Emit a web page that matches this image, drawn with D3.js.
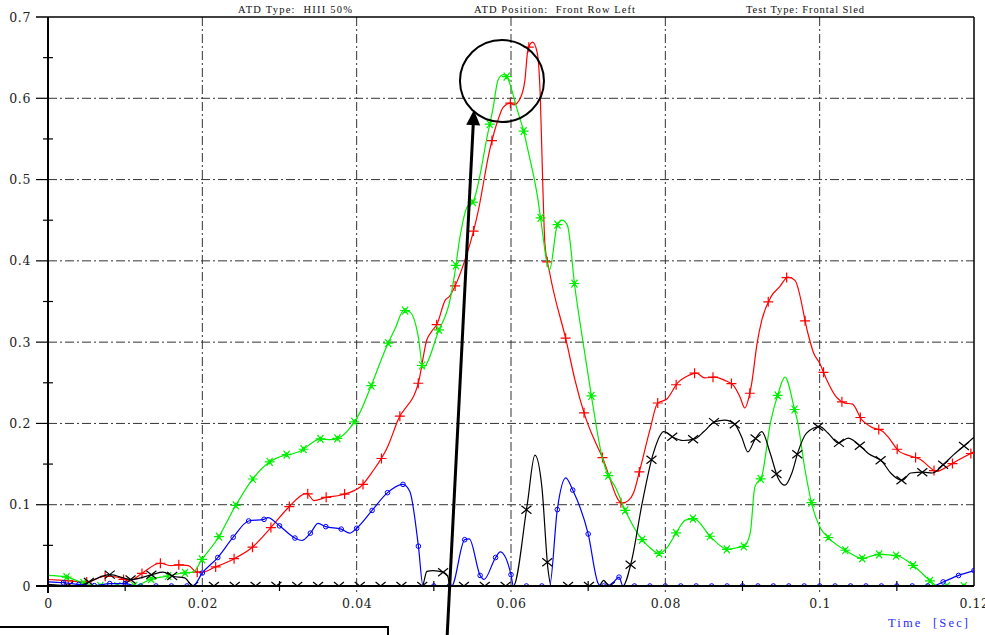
<!DOCTYPE html>
<html><head>
<meta charset="utf-8">
<title>ATD sled test</title>
<script src="https://d3js.org/d3.v7.min.js"></script>
<style>
  body { margin: 0; background: #fff; }
  svg { display: block; }
  .grid line { stroke: #333; stroke-width: 1; stroke-dasharray: 9,3,2,3; }
  .head { font-family: "Liberation Serif", "DejaVu Serif", serif; font-size: 10.5px; fill: #111; }
</style>
</head>
<body>
<svg id="chart" width="985" height="635"></svg>
<script>

// values: [time (s), value]
const redSeries = [[0,0.008],[0.002,0.007],[0.005,0.005],[0.0074,0.012],[0.009,0.011],[0.0105,0.006],[0.0121,0.015],
  [0.0145,0.028],[0.016,0.025],[0.0169,0.026],[0.0182,0.025],[0.0193,0.017],[0.020,0.017],[0.0216,0.023],[0.024,0.033],
  [0.0264,0.047],[0.0288,0.071],[0.0311,0.096],[0.0335,0.114],[0.0345,0.105],[0.036,0.109],[0.038,0.112],[0.0405,0.122],
  [0.042,0.14],[0.044,0.171],[0.0454,0.205],[0.048,0.25],[0.0491,0.303],[0.0497,0.313],[0.0504,0.322],[0.0515,0.352],
  [0.052,0.356],[0.0527,0.368],[0.054,0.4],[0.0551,0.435],[0.0557,0.459],[0.0573,0.539],[0.0583,0.573],[0.059,0.589],
  [0.0599,0.594],[0.0604,0.592],[0.0612,0.600],[0.0618,0.622],[0.0622,0.66],[0.0628,0.669],[0.0634,0.656],[0.0638,0.601],
  [0.0641,0.5],[0.0644,0.42],[0.065,0.386],[0.0672,0.300],[0.0683,0.253],[0.0696,0.209],[0.0719,0.157],[0.0744,0.102],
  [0.0752,0.105],[0.0759,0.115],[0.0767,0.143],[0.078,0.192],[0.079,0.225],[0.0802,0.23],[0.0816,0.25],[0.083,0.259],
  [0.084,0.262],[0.0851,0.256],[0.0864,0.257],[0.0877,0.253],[0.0889,0.246],[0.0897,0.232],[0.0903,0.219],[0.0909,0.235],
  [0.0912,0.25],[0.0919,0.299],[0.0925,0.327],[0.0937,0.356],[0.0948,0.368],[0.0959,0.380],[0.0968,0.376],[0.0985,0.31],
  [0.0992,0.287],[0.1,0.274],[0.1008,0.256],[0.1022,0.232],[0.1033,0.225],[0.1042,0.224],[0.1055,0.204],[0.1066,0.196],
  [0.1082,0.19],[0.1088,0.184],[0.1104,0.165],[0.1114,0.161],[0.113,0.156],[0.1152,0.141],[0.1162,0.145],[0.1178,0.154],
  [0.12,0.165]];

const greenSeries = [[0,0.013],[0.0024,0.011],[0.0045,0.004],[0.007,0.0],[0.0105,0.0],[0.0117,0.001],[0.0132,0.008],
  [0.0154,0.012],[0.0175,0.016],[0.0188,0.017],[0.0199,0.032],[0.0221,0.06],[0.0242,0.097],[0.0264,0.13],[0.0285,0.151],
  [0.0307,0.161],[0.0318,0.163],[0.0329,0.167],[0.0342,0.176],[0.0352,0.181],[0.0366,0.18],[0.038,0.184],[0.0394,0.198],
  [0.0404,0.213],[0.0417,0.242],[0.0439,0.295],[0.045,0.317],[0.0461,0.339],[0.0469,0.337],[0.048,0.306],[0.0486,0.268],
  [0.0491,0.274],[0.0505,0.311],[0.0521,0.352],[0.0527,0.384],[0.0534,0.43],[0.0543,0.466],[0.0551,0.473],[0.057,0.557],
  [0.0577,0.589],[0.0583,0.622],[0.059,0.629],[0.0595,0.626],[0.0601,0.61],[0.0608,0.586],[0.0616,0.561],[0.0622,0.536],
  [0.0635,0.475],[0.0638,0.455],[0.065,0.389],[0.066,0.444],[0.0666,0.45],[0.0673,0.444],[0.0683,0.366],[0.0693,0.302],
  [0.0705,0.229],[0.0718,0.159],[0.0726,0.136],[0.0735,0.122],[0.0748,0.093],[0.077,0.057],[0.078,0.047],[0.0792,0.04],
  [0.0802,0.047],[0.0815,0.067],[0.0826,0.081],[0.0837,0.083],[0.0859,0.06],[0.0881,0.045],[0.0892,0.047],[0.0902,0.049],
  [0.091,0.065],[0.0916,0.122],[0.0925,0.135],[0.0936,0.2],[0.0946,0.236],[0.0955,0.257],[0.0968,0.215],[0.0971,0.204],
  [0.0981,0.143],[0.099,0.1],[0.1,0.073],[0.1012,0.059],[0.1035,0.043],[0.1056,0.034],[0.1067,0.037],[0.1079,0.039],
  [0.1101,0.037],[0.1124,0.023],[0.1146,0.004],[0.1152,0],[0.12,0]];

const blueSeries = [[0,0.005],[0.002,0.004],[0.0039,0.002],[0.006,0.0005],[0.008,0.003],[0.01,0.003],[0.0115,0.0],
  [0.0188,0.0],[0.02,0.016],[0.022,0.035],[0.024,0.06],[0.026,0.08],[0.028,0.082],[0.0285,0.084],[0.03,0.074],[0.032,0.059],
  [0.0329,0.056],[0.034,0.065],[0.035,0.077],[0.036,0.073],[0.038,0.07],[0.0391,0.065],[0.04,0.071],[0.042,0.093],
  [0.0439,0.114],[0.046,0.125],[0.0469,0.116],[0.048,0.049],[0.0486,0.0],[0.0523,0.0],[0.054,0.057],[0.0546,0.058],
  [0.056,0.013],[0.0565,0.008],[0.058,0.035],[0.0586,0.042],[0.06,0.014],[0.0603,0.0],[0.065,0.0],[0.066,0.094],
  [0.0671,0.133],[0.068,0.118],[0.07,0.064],[0.0713,0.003],[0.0716,0.0],[0.0725,0.0],[0.0733,0.005],[0.074,0.011],
  [0.0745,0.0],[0.1147,0.0],[0.116,0.005],[0.118,0.013],[0.12,0.019]];

const blackSeries = [[0,0.002],[0.004,0.0],[0.0053,0.005],[0.008,0.014],[0.0108,0.008],[0.0135,0.014],[0.0149,0.017],
  [0.0162,0.012],[0.0177,0.01],[0.0188,0.0],[0.0485,0.0],[0.0491,0.018],[0.0499,0.019],[0.0512,0.017],[0.0518,0.012],
  [0.0521,0.0],[0.0603,0.0],[0.0621,0.1],[0.0631,0.161],[0.064,0.122],[0.0648,0.02],[0.0652,0.0],[0.0714,0.0],
  [0.072,0.007],[0.0727,0.0],[0.0745,0.0],[0.0756,0.03],[0.077,0.102],[0.0784,0.162],[0.0798,0.19],[0.081,0.183],
  [0.0823,0.179],[0.0838,0.181],[0.085,0.19],[0.0864,0.202],[0.0877,0.204],[0.089,0.199],[0.0899,0.183],[0.0907,0.165],
  [0.0916,0.18],[0.0925,0.19],[0.0936,0.163],[0.0946,0.133],[0.0955,0.124],[0.0964,0.139],[0.0972,0.165],[0.0983,0.188],
  [0.1,0.196],[0.1011,0.188],[0.1024,0.176],[0.1037,0.182],[0.1055,0.17],[0.1063,0.163],[0.1081,0.153],[0.1092,0.139],
  [0.1107,0.13],[0.1118,0.139],[0.1134,0.14],[0.1146,0.139],[0.1161,0.15],[0.1173,0.161],[0.1188,0.173],[0.12,0.183]];

const xTicks = [0, 0.02, 0.04, 0.06, 0.08, 0.1, 0.12];
const xMinorTicks = [0.01, 0.03, 0.05, 0.07, 0.09, 0.11];
const yTicks = [0, 0.1, 0.2, 0.3, 0.4, 0.5, 0.6, 0.7];
const yMinorTicks = [0.05, 0.15, 0.25, 0.35, 0.45, 0.55, 0.65];
const headerLabels = ["ATD Type:  HIII 50%", "ATD Position:  Front Row Left", "Test Type: Frontal Sled"];
const xAxisTitle = "Time  [Sec]";

// drawing
const svg = d3.select("#chart");
const x = d3.scaleLinear().domain([0, 0.12]).range([48, 974]);
const y = d3.scaleLinear().domain([0, 0.7]).range([586, 17]);

svg.append("clipPath").attr("id", "plotclip")
  .append("rect").attr("x", x(0)).attr("y", y(0.7) - 6).attr("width", x(0.12) - x(0)).attr("height", y(0) - y(0.7) + 6);

// dash-dot grid
const grid = svg.append("g").attr("class", "grid");
grid.selectAll("line.v").data(xTicks.filter(d => d > 0 && d < 0.12)).join("line").attr("class", "v")
  .attr("x1", d => x(d)).attr("x2", d => x(d)).attr("y1", y(0.7)).attr("y2", y(0) + 7);
grid.selectAll("line.h").data(yTicks.filter(d => d > 0 && d < 0.7)).join("line").attr("class", "h")
  .attr("x1", x(0)).attr("x2", x(0.12)).attr("y1", d => y(d)).attr("y2", d => y(d));

// frame and ticks
const frame = svg.append("g").attr("stroke", "#000");
frame.append("line").attr("x1", 36).attr("x2", x(0.12)).attr("y1", y(0.7)).attr("y2", y(0.7)).attr("stroke-width", 1.5);
frame.append("line").attr("x1", x(0.12)).attr("x2", x(0.12)).attr("y1", y(0.7)).attr("y2", y(0)).attr("stroke-width", 1.5);
frame.selectAll("line.ymaj").data(yTicks.filter(d => d > 0 && d < 0.7)).join("line").attr("class", "ymaj")
  .attr("x1", 36).attr("x2", x(0)).attr("y1", d => y(d)).attr("y2", d => y(d)).attr("stroke-width", 1.2);
frame.selectAll("line.ymin").data(yMinorTicks).join("line").attr("class", "ymin")
  .attr("x1", x(0) - 5).attr("x2", x(0) + 5).attr("y1", d => y(d)).attr("y2", d => y(d)).attr("stroke-width", 1.2);
frame.selectAll("line.xmin").data(xMinorTicks).join("line").attr("class", "xmin")
  .attr("x1", d => x(d)).attr("x2", d => x(d)).attr("y1", y(0) - 5).attr("y2", y(0) + 5).attr("stroke-width", 1.2);

// tick labels through d3 axes
const yAxis = svg.append("g").attr("transform", "translate(" + x(0) + ",0)")
  .call(d3.axisLeft(y).tickValues(yTicks).tickSize(0).tickPadding(17).tickFormat(d3.format("")));
const xAxis = svg.append("g").attr("transform", "translate(0," + y(0) + ")")
  .call(d3.axisBottom(x).tickValues(xTicks).tickSize(0).tickPadding(13).tickFormat(d3.format("")));
[xAxis, yAxis].forEach(a => {
  a.select(".domain").remove();
  a.selectAll("text").attr("font-family", "'DejaVu Serif', serif").attr("font-size", 12.5)
    .attr("letter-spacing", 0.6).attr("fill", "#222");
});

// series
const seriesList = [
  {data: redSeries,   color: "#ff0000", mark: "plus",  start: 0.00263, step: 0.002387},
  {data: greenSeries, color: "#00ee00", mark: "star",  start: 0.0024,  step: 0.002194},
  {data: blackSeries, color: "#000000", mark: "cross", start: 0.0026,  step: 0.0027},
  {data: blueSeries,  color: "#0000ff", mark: "ring",  start: 0.002,   step: 0.002}
];

const line = d3.line().x(d => x(d[0])).y(d => y(d[1])).curve(d3.curveMonotoneX);
const plot = svg.append("g").attr("clip-path", "url(#plotclip)");

seriesList.forEach(s => {
  const path = plot.append("path").datum(s.data)
    .attr("d", line).attr("fill", "none").attr("stroke", s.color).attr("stroke-width", 1.2);

  // sample the drawn curve so markers sit exactly on it
  const node = path.node();
  const len = node.getTotalLength();
  const pts = d3.range(0, len, 0.5).map(l => node.getPointAtLength(l));
  pts.push(node.getPointAtLength(len));
  const bis = d3.bisector(p => p.x).left;
  const times = d3.range(s.start, 0.1201, s.step);
  const marks = times.map(t => {
    const px = x(t);
    let i = Math.min(Math.max(bis(pts, px), 1), pts.length - 1);
    const a = pts[i - 1], b = pts[i];
    const f = b.x === a.x ? 0 : (px - a.x) / (b.x - a.x);
    return [px, a.y + f * (b.y - a.y)];
  });

  const g = plot.append("g").attr("stroke", s.color).attr("fill", "none").attr("stroke-width", 1.2);
  const r = 5;
  let sym;
  if (s.mark === "plus") sym = `M${-r},0H${r}M0,${-r}V${r}`;
  if (s.mark === "cross") sym = `M${-r},${-r * 0.8}L${r},${r * 0.8}M${-r},${r * 0.8}L${r},${-r * 0.8}`;
  if (s.mark === "star") sym = `M${-r},0H${r}M${-r * 0.6},${-r * 0.8}L${r * 0.6},${r * 0.8}M${-r * 0.6},${r * 0.8}L${r * 0.6},${-r * 0.8}M0,${-r * 0.5}V${r * 0.5}`;
  if (s.mark === "ring") {
    g.selectAll("circle").data(marks).join("circle")
      .attr("cx", d => d[0]).attr("cy", d => d[1]).attr("r", 2.3).attr("stroke-width", 1);
  } else {
    g.selectAll("path").data(marks).join("path")
      .attr("d", sym).attr("transform", d => "translate(" + d[0] + "," + d[1] + ")");
  }
});

// axis lines on top
svg.append("line").attr("x1", 36).attr("x2", x(0.12)).attr("y1", y(0)).attr("y2", y(0)).attr("stroke", "#000").attr("stroke-width", 2);
svg.append("line").attr("x1", x(0)).attr("x2", x(0)).attr("y1", y(0.7)).attr("y2", y(0) + 7).attr("stroke", "#000").attr("stroke-width", 2);

// header strip
const headX = [238, 474, 746];
const headW = [114, 161, 118];
svg.selectAll("text.head").data(headerLabels).join("text").attr("class", "head")
  .attr("x", (d, i) => headX[i]).attr("y", 12.5).attr("xml:space", "preserve")
  .attr("textLength", (d, i) => headW[i]).attr("lengthAdjust", "spacing")
  .text(d => d);

svg.append("text").attr("x", 888).attr("y", 627).attr("xml:space", "preserve")
  .attr("font-family", "'Liberation Serif', serif").attr("font-size", 12.5).attr("fill", "#2a2aff")
  .attr("textLength", 80).attr("lengthAdjust", "spacing").text(xAxisTitle);

// annotations: circle around the peak and arrow pointing at it
svg.append("ellipse").attr("cx", x(0.05883)).attr("cy", y(0.6212)).attr("rx", 42).attr("ry", 41)
  .attr("fill", "none").attr("stroke", "#000").attr("stroke-width", 2);

const tail = [x(0.0517), y(-0.0664)], tip = [x(0.0552), y(0.5855)];
const dx = tip[0] - tail[0], dy = tip[1] - tail[1], dl = Math.hypot(dx, dy);
const ux = dx / dl, uy = dy / dl, hl = 15, hw = 7;
const base = [tip[0] - ux * hl, tip[1] - uy * hl];
svg.append("line").attr("x1", tail[0]).attr("y1", tail[1]).attr("x2", base[0] + ux * 2).attr("y2", base[1] + uy * 2)
  .attr("stroke", "#000").attr("stroke-width", 3);
svg.append("path")
  .attr("d", `M${tip[0]},${tip[1]}L${base[0] - uy * hw},${base[1] + ux * hw}L${base[0] + uy * hw},${base[1] - ux * hw}Z`)
  .attr("fill", "#000");

// box edge at the lower left
svg.append("path").attr("d", "M0,627H388V640").attr("fill", "none").attr("stroke", "#000").attr("stroke-width", 2);

</script>
</body>
</html>
